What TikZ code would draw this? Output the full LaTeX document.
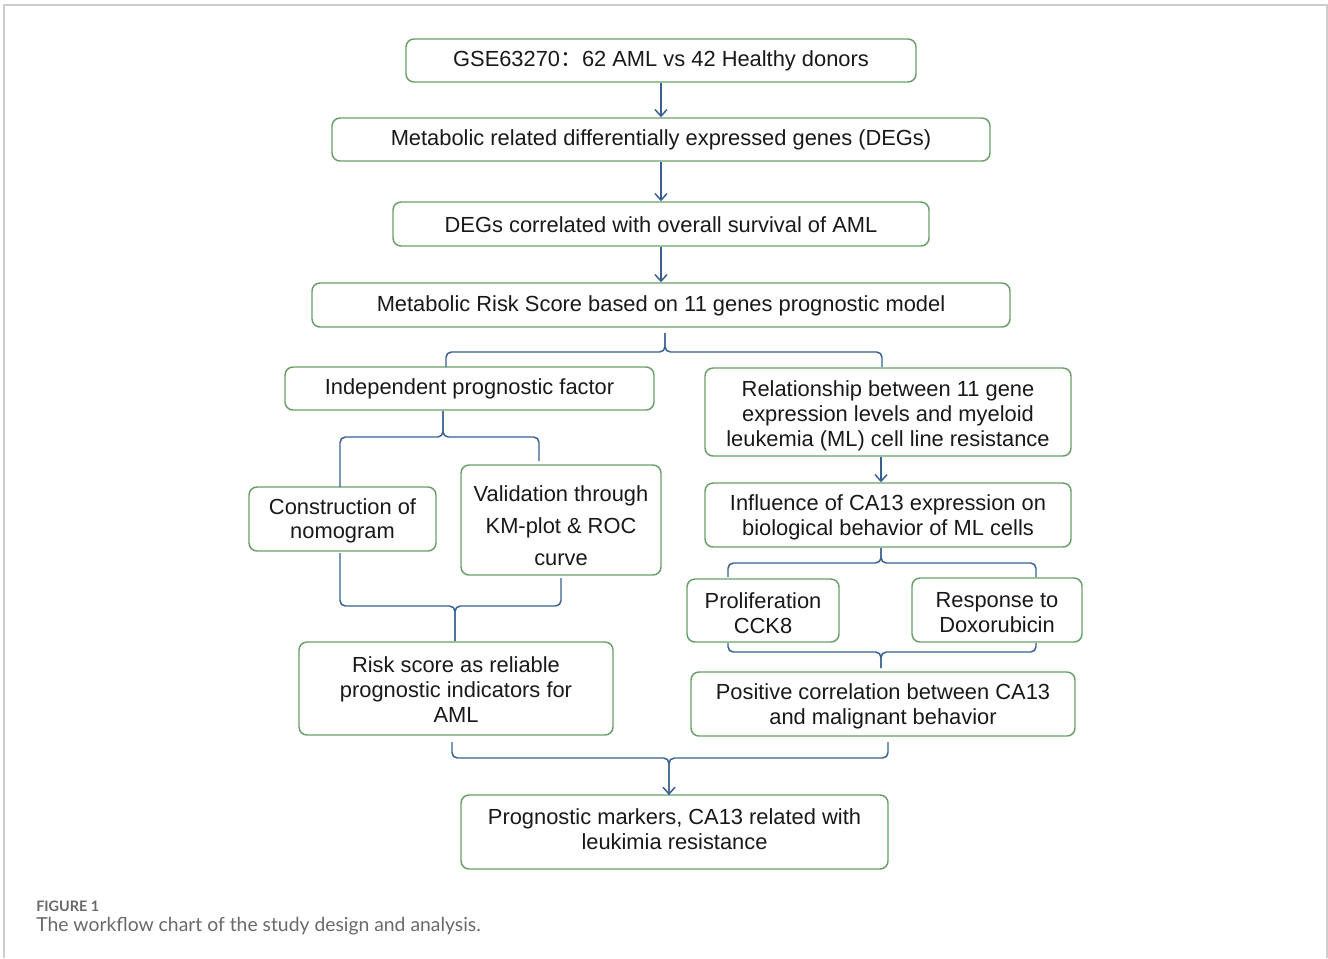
\documentclass[tikz,border=0pt]{standalone}
\usepackage{fontspec}
\setmainfont{Liberation Sans}
\newfontfamily\capfont{Lato}
\newfontfamily\cjk{Noto Sans CJK SC}
\usetikzlibrary{arrows.meta}
\definecolor{boxgreen}{RGB}{105,158,105}
\definecolor{connblue}{RGB}{55,95,145}
\definecolor{capgrey}{RGB}{105,105,105}
\definecolor{framegrey}{RGB}{205,205,205}
\tikzset{
  box/.style={draw=boxgreen, line width=1.1pt, rounded corners=6pt, align=center, inner sep=0pt, text=black!90, font=\fontsize{16.4}{18.75}\selectfont},
  boxtext/.style={align=center, inner sep=0pt, text=black!90, font=\fontsize{16.4}{18.75}\selectfont},
  conn/.style={draw=connblue, line width=1.1pt},
  arr/.style={conn, -{Straight Barb[length=5pt,width=9pt,line width=1.1pt]}},
  brace/.style={conn, rounded corners=4pt}
}
\begin{document}
\begin{tikzpicture}[x=0.75pt,y=-0.75pt]
\useasboundingbox (0,0) rectangle (1328,958);
% outer frame
\draw[framegrey, line width=1.2pt] (4,958) -- (4,5) -- (1327,5) -- (1327,958);

% boxes
\node[box, minimum width=510*0.75pt, minimum height=43*0.75pt] (n1) at (661,60.5) {};
\node[box, minimum width=658*0.75pt, minimum height=43*0.75pt] (n2) at (661,139.5) {};
\node[box, minimum width=536*0.75pt, minimum height=44*0.75pt] (n3) at (661,224) {};
\node[box, minimum width=698*0.75pt, minimum height=44*0.75pt] (n4) at (661,305) {};
\node[box, minimum width=369*0.75pt, minimum height=43*0.75pt] (n5) at (469.5,388.5) {};
\node[box, minimum width=366*0.75pt, minimum height=88*0.75pt] (n6) at (888,412) {};
\node[box, minimum width=187*0.75pt, minimum height=64*0.75pt] (n7) at (342.5,519) {};
\node[box, minimum width=200*0.75pt, minimum height=110*0.75pt] (n8) at (561,520) {};
\node[box, minimum width=366*0.75pt, minimum height=64*0.75pt] (n9) at (888,515) {};
\node[box, minimum width=152*0.75pt, minimum height=63*0.75pt] (n10) at (763,610.5) {};
\node[box, minimum width=170*0.75pt, minimum height=64*0.75pt] (n11) at (997,610) {};
\node[box, minimum width=314*0.75pt, minimum height=93*0.75pt] (n12) at (456,688.5) {};
\node[box, minimum width=384*0.75pt, minimum height=64*0.75pt] (n13) at (883,704) {};
\node[box, minimum width=427*0.75pt, minimum height=74*0.75pt] (n14) at (674.5,832) {};

% texts
\node[boxtext] (t1) at (661,61) {GSE63270{\cjk ：}62 AML vs 42 Healthy donors};
\node[boxtext] (t2) at (661,140) {Metabolic related differentially expressed genes (DEGs)};
\node[boxtext] (t3) at (661,224.5) {DEGs correlated with overall survival of AML};
\node[boxtext] (t4) at (661,305.5) {Metabolic Risk Score based on 11 genes prognostic model};
\node[boxtext] (t5) at (469.5,389) {Independent prognostic factor};
\node[boxtext] (t6) at (888,416) {Relationship between 11 gene\\expression levels and myeloid\\leukemia (ML) cell line resistance};
\node[boxtext, font=\fontsize{16.4}{18}\selectfont] (t7) at (342.5,521) {Construction of\\nomogram};
\node[boxtext, font=\fontsize{16.4}{24}\selectfont] (t8) at (561,526) {Validation through\\KM-plot \& ROC\\curve};
\node[boxtext] (t9) at (888,517.5) {Influence of CA13 expression on\\biological behavior of ML cells};
\node[boxtext] (t10) at (763,613) {Proliferation\\CCK8};
\node[boxtext] (t11) at (997,612.5) {Response to\\Doxorubicin};
\node[boxtext] (t12) at (456,689.5) {Risk score as reliable\\prognostic indicators for\\AML};
\node[boxtext] (t13) at (883,706.5) {Positive correlation between CA13\\and malignant behavior};
\node[boxtext] (t14) at (674.5,829.5) {Prognostic markers, CA13 related with\\leukimia resistance};

% straight arrows
\draw[arr] (n1) -- (n2);
\draw[arr] (n2) -- (n3);
\draw[arr] (n3) -- (n4);
\draw[arr] ([xshift=-5.25pt]n6.south) -- ([xshift=-5.25pt]n9.north);

% brace A (under n4)
\coordinate (A0) at (665,333);
\coordinate (Am) at (665,352);
\coordinate (A1) at (446,367);
\coordinate (A2) at (882,367);
\draw[brace] (A1) |- (Am) -- (A0);
\draw[brace] (A2) |- (Am) -- (A0);

% brace B (under n5)
\coordinate (B0) at (443,411);
\coordinate (Bm) at (443,437);
\coordinate (B1) at (340,487);
\coordinate (B2) at (539,461);
\draw[brace] (B1) |- (Bm) -- (B0);
\draw[brace] (B2) |- (Bm) -- (B0);

% brace C (into n12)
\coordinate (C1) at (340,553);
\coordinate (C2) at (561,578);
\coordinate (Cm) at (455,606);
\coordinate (C0) at (455,641);
\draw[brace] (C1) |- (Cm) -- (C0);
\draw[brace] (C2) |- (Cm) -- (C0);

% brace D (under n9)
\coordinate (D0) at (881,548);
\coordinate (Dm) at (881,563);
\coordinate (D1) at (728,577);
\coordinate (D2) at (1036,577);
\draw[brace] (D1) |- (Dm) -- (D0);
\draw[brace] (D2) |- (Dm) -- (D0);

% brace E (into n13)
\coordinate (E1) at (728,643);
\coordinate (E2) at (1036,643);
\coordinate (Em) at (881,652);
\coordinate (E0) at (881,668);
\draw[brace] (E1) |- (Em) -- (E0);
\draw[brace] (E2) |- (Em) -- (E0);

% brace F (into n14)
\coordinate (F1) at (452,742);
\coordinate (F2) at (888,742);
\coordinate (Fm) at (669,758);
\coordinate (F0) at (669,795);
\draw[brace] (F1) |- (Fm) -- (F0);
\draw[brace, -{Straight Barb[length=5pt,width=9pt,line width=1.1pt]}] (F2) |- (Fm) -- (F0);

% caption
\node[anchor=base west, inner sep=0pt, text=capgrey, font=\capfont\bfseries\fontsize{10.8}{12}\selectfont] (cap1) at (36,911) {FIGURE 1};
\node[anchor=base west, inner sep=0pt, text=capgrey, font=\capfont\fontsize{14.5}{16}\selectfont] (cap2) at (36,931) {The workflow chart of the study design and analysis.};
\end{tikzpicture}
\end{document}
